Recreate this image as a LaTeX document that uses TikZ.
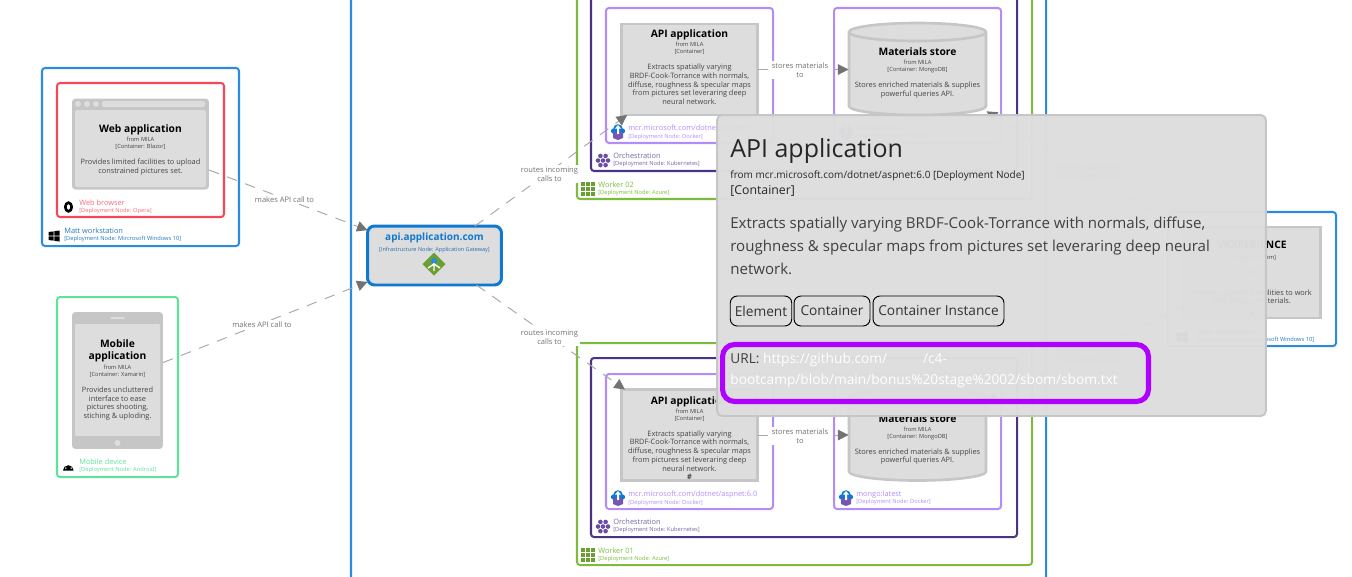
\documentclass[tikz,border=0pt]{standalone}
\usepackage{fontspec}
\setmainfont{Open Sans}
\usepackage{xcolor}
\usepackage{tikz}
\usetikzlibrary{shapes,arrows.meta}
\definecolor{bblue}{HTML}{2A8CE0}
\definecolor{bdeep}{HTML}{0F78D0}
\definecolor{bred}{HTML}{F5465A}
\definecolor{bmint}{HTML}{5FE39B}
\definecolor{bgreen}{HTML}{7CBB3C}
\definecolor{bdark}{HTML}{4A3284}
\definecolor{bpurp}{HTML}{B48CFA}
\definecolor{bgray}{HTML}{DDDDDD}
\definecolor{bedge}{HTML}{C6C6C6}
\definecolor{blink}{HTML}{B000FF}
\definecolor{btext}{HTML}{444444}
\lineskiplimit=-20pt
\tikzstyle{bound} = [rounded corners=0.06cm, line width=1.15pt]
\tikzstyle{block} = [rectangle, draw=bedge, fill=bgray, line width=1.5pt, inner sep=0, outer sep=0, minimum width=2.73cm, minimum height=1.82cm]
\tikzstyle{store} = [rectangle, inner sep=0, outer sep=0, minimum width=2.76cm, minimum height=1.86cm]
\tikzstyle{device} = [rectangle, rounded corners=0.07cm, fill=bedge, inner sep=0, outer sep=0]
\tikzstyle{blocktext} = [anchor=north, align=center, inner sep=0, text=btext, font=\fontsize{4.2}{5}\selectfont]
\tikzstyle{bname} = [anchor=west, align=left, inner sep=0, font=\fontsize{4.2}{4.4}\selectfont]
\tikzstyle{arrow} = [draw=bedge!85!black, line width=0.55pt, dash pattern=on 6pt off 5pt, -{Triangle[length=6pt,width=6pt,color=black!55,fill=black!55]}]
\tikzstyle{edgelabel} = [fill=white, align=center, inner sep=0.9pt, text=black!55, font=\fontsize{4.3}{4.9}\selectfont]
\tikzstyle{tag} = [draw=black, rectangle, rounded corners=0.14cm, line width=0.55pt, inner sep=0, minimum height=0.6cm, text=black!80, font=\fontsize{7.8}{9}\selectfont]
\newcommand{\titleline}[1]{{\fontsize{5.85}{5}\selectfont\bfseries\color{black}#1}}
\newcommand{\tinyline}[1]{{\fontsize{3.25}{4.4}\selectfont #1}}
\newcommand{\drumshape}[2]{
    \begin{scope}[shift={(#1,#2)}]
        \draw[draw=bedge, fill=bgray, line width=1.5pt] (-68.5,-37.5) -- (-68.5,36.5) arc (180:0:68.5 and 9) -- (68.5,-37.5) arc (0:-180:68.5 and 9) -- cycle;
        \draw[draw=bedge, line width=1.5pt] (-68.5,-37.5) arc (180:0:68.5 and 9);
    \end{scope}
}
\newcommand{\dockericon}[2]{
    \begin{scope}[shift={(#1,#2)}]
        \fill[bdeep] (0,-3) circle (4.8) (-4.5,-1) circle (2.6) (4.5,-1) circle (2.6);
        \fill[bdark!60!bpurp] (-5,1) -- (0,-1) -- (5,1) -- (5,6) -- (0,8) -- (-5,6) -- cycle;
        \fill[white] (0,-7) -- (3,-3.5) -- (1,-3.5) -- (1,2) -- (-1,2) -- (-1,-3.5) -- (-3,-3.5) -- cycle;
    \end{scope}
}
\newcommand{\kubeicon}[2]{
    \begin{scope}[shift={(#1,#2)}]
        \foreach \px/\py in {-2.6/-4.6, 2.6/-4.6, -5/0, 0/0, 5/0, -2.6/4.6, 2.6/4.6}
            \fill[bdark!70!bpurp] (\px,\py) circle (2.3);
    \end{scope}
}
\newcommand{\gridicon}[2]{
    \begin{scope}[shift={(#1,#2)}]
        \foreach \px in {-7,-2,3}
            \foreach \py in {-7,-2,3}
                \fill[bgreen!85!black] (\px,\py) rectangle ++(4.2,4.2);
    \end{scope}
}
\newcommand{\winicon}[2]{
    \begin{scope}[shift={(#1,#2)}]
        \fill[black] (-5.5,-4) -- (-0.5,-4.6) -- (-0.5,-0.5) -- (-5.5,-0.5) -- cycle;
        \fill[black] (0.3,-4.8) -- (5.5,-5.5) -- (5.5,-0.5) -- (0.3,-0.5) -- cycle;
        \fill[black] (-5.5,0.3) -- (-0.5,0.3) -- (-0.5,4.6) -- (-5.5,4) -- cycle;
        \fill[black] (0.3,0.3) -- (5.5,0.3) -- (5.5,5.5) -- (0.3,4.8) -- cycle;
    \end{scope}
}
\begin{document}
\begin{tikzpicture}[x=0.02cm, y=-0.02cm]
    \useasboundingbox (0,0) rectangle (1352,576);
    \clip (0,0) rectangle (1352,576);
    % outer boundaries
    \draw[bound, draw=bblue] (351,-10) rectangle (1046,590);
    \draw[bound, draw=bblue] (42,68) rectangle (239,246);
    \draw[bound, draw=bred] (57,83) rectangle (224,217);
    \draw[bound, draw=bmint] (57,297) rectangle (178,477);
    \draw[bound, draw=bblue] (1168,212) rectangle (1336,346);
    % worker 02
    \draw[bound, draw=bgreen] (577,-10) rectangle (1032,199);
    \draw[bound, draw=bdark] (591,-10) rectangle (1017,171);
    \draw[bound, draw=bpurp] (606,8) rectangle (773,143);
    \draw[bound, draw=bpurp] (834,8) rectangle (1001,143);
    % worker 01
    \draw[bound, draw=bgreen] (577,343) rectangle (1032,565);
    \draw[bound, draw=bdark] (591,358) rectangle (1017,537);
    \draw[bound, draw=bpurp] (606,374) rectangle (773,509);
    \draw[bound, draw=bpurp] (834,374) rectangle (1001,509);

    % browser
    \node[device, minimum width=2.74cm, minimum height=1.82cm] at (140.5,144) (webapp) {};
    \foreach \dotx in {78,87,96}
        \fill[bgray] (\dotx,104) circle (3);
    \fill[bgray, rounded corners=0.04cm] (102,101) rectangle (205,107);
    \fill[bgray, rounded corners=0.03cm] (75,110) rectangle (206,187);
    \node[blocktext] at (140.5,124.5) (webtext) {\titleline{Web application}\\[0.3pt]\tinyline{from MILA}\\[-1.15pt]\tinyline{[Container: Blazor]}\\[4pt]Provides limited facilities to upload\\constrained pictures set.};
    % tablet
    \node[device, minimum width=1.82cm, minimum height=2.74cm] at (117.5,380.5) (mobapp) {};
    \fill[bgray, rounded corners=0.02cm] (110,317) rectangle (125,319);
    \fill[bgray] (117.5,443) circle (3);
    \fill[bgray, rounded corners=0.02cm] (75,324) rectangle (160,436);
    \node[blocktext] at (117.5,339.5) (mobtext) {\titleline{Mobile}\\[1.6pt]\titleline{application}\\[0.7pt]\tinyline{from MILA}\\[-1.15pt]\tinyline{[Container: Xamarin]}\\[4.3pt]Provides uncluttered\\interface to ease\\pictures shooting,\\stiching \& uploding.};
    % gateway
    \node[rectangle, rounded corners=0.14cm, draw=bdeep, fill=bgray, line width=1.7pt, minimum width=2.68cm, minimum height=1.18cm, inner sep=0, outer sep=0] at (434.5,255.5) (gateway) {};
    \node[blocktext] at (434.5,233) (gatetext) {{\fontsize{5.7}{5}\selectfont\bfseries\color{bdeep}api.application.com}\\[0.9pt]{\fontsize{3.15}{5}\selectfont\color{bblue!80!black}[Infrastructure Node: Application Gateway]}};
    \fill[bgreen!85!black] (434,252.5) -- (445.5,264) -- (434,275.5) -- (422.5,264) -- cycle;
    \fill[bblue] (434,261) circle (3);
    \draw[white, line width=0.8pt] (434,263) -- (434,271) (434,264) -- (428,268) (434,264) -- (440,268);

    % containers
    \node[block] at (689.5,69.5) (apitop) {};
    \node[blocktext] at (689.5,29.5) (apitoptext) {\titleline{API application}\\[0.3pt]\tinyline{from MILA}\\[-1.15pt]\tinyline{[Container]}\\[4pt]Extracts spatially varying\\BRDF-Cook-Torrance with normals,\\diffuse, roughness \& specular maps\\from pictures set leveraring deep\\neural network.};
    \drumshape{917.5}{69.5}
    \node[store] at (917.5,69.5) (storetop) {};
    \node[blocktext] at (917.5,47.5) (storetoptext) {\titleline{Materials store}\\[0.3pt]\tinyline{from MILA}\\[-1.15pt]\tinyline{[Container: MongoDB]}\\[4pt]Stores enriched materials \& supplies\\powerful queries API.};
    \node[block] at (689.5,435) (apibot) {};
    \node[blocktext] at (689.5,396) (apibottext) {\titleline{API application}\\[0.3pt]\tinyline{from MILA}\\[-1.15pt]\tinyline{[Container]}\\[4pt]Extracts spatially varying\\BRDF-Cook-Torrance with normals,\\diffuse, roughness \& specular maps\\from pictures set leveraring deep\\neural network.\\{\bfseries\#}};
    \drumshape{917.5}{435}
    \node[store] at (917.5,435) (storebot) {};
    \node[blocktext] at (917.5,414) (storebottext) {\titleline{Materials store}\\[0.3pt]\tinyline{from MILA}\\[-1.15pt]\tinyline{[Container: MongoDB]}\\[4pt]Stores enriched materials \& supplies\\powerful queries API.};
    \node[block] at (1252,272.5) (vrx) {};
    \node[blocktext] at (1252,240.5) (vrxtext) {\titleline{VRXPERIENCE}\\[1.5pt]\tinyline{[Software System]}\\[3.6pt]\tinyline{None}\\[6.5pt]Provides powerful facilities to work\\with physics materials.\\[3pt]{\bfseries\#}};

    % connectors
    \path[arrow] (webapp) to (gateway);
    \path[arrow] (mobapp) to (gateway);
    \path[arrow] (gateway) to (apitop);
    \path[arrow] (gateway) to (apibot);
    \path[arrow] (apitop) to (storetop);
    \path[arrow] (apibot) to (storebot);
    \path[arrow] (vrx) to (storetop);
    \path[arrow] (vrx) to (storebot);
    \node[edgelabel] at (284.5,199.5) (weblbl) {makes API call to};
    \node[edgelabel] at (262,324.5) (moblbl) {makes API call to};
    \node[edgelabel] at (549.5,174) (routetop) {routes incoming\\calls to};
    \node[edgelabel] at (549.5,337.5) (routebot) {routes incoming\\calls to};
    \node[edgelabel] at (800,70) (storelbltop) {stores materials\\to};
    \node[edgelabel] at (800,436) (storelblbot) {stores materials\\to};
    \node[edgelabel] at (1088,172) (fetchtop) {fetches materials\\from};
    \node[edgelabel] at (1088,353) (fetchbot) {fetches materials\\from};

    % boundary names
    \node[bname, text=bred!80] at (79,207) (browsername) {Web browser\\\tinyline{[Deployment Node: Opera]}};
    \draw[black, line width=1.5pt] (68.5,207) ellipse (3.2 and 4.3);
    \node[bname, text=bblue!85!black] at (64,235) (mattname) {Matt workstation\\\tinyline{[Deployment Node: Mircrosoft Windows 10]}};
    \winicon{54}{236}
    \node[bname, text=bmint] at (79,466) (mobname) {Mobile device\\\tinyline{[Deployment Node: Android]}};
    \fill[black] (63,470.5) arc (180:360:5.3) -- cycle;
    \fill[white] (65.8,468) circle (0.8) (71.2,468) circle (0.8);
    \node[bname, text=bblue!85!black] at (1197,336) (vrxname) {Matt workstation\\\tinyline{[Deployment Node: Mircrosoft Windows 10]}};
    \winicon{1182}{337}

    \node[bname, text=bpurp] at (628,132) (dockname) {mcr.microsoft.com/dotnet/aspnet:6.0\\\tinyline{[Deployment Node: Docker]}};
    \dockericon{618}{132}
    \node[bname, text=bpurp] at (856,132) (mongoname) {mongo:latest\\\tinyline{[Deployment Node: Docker]}};
    \dockericon{846}{132}
    \node[bname, text=bdark!75] at (613,160) (kubename) {Orchestration\\\tinyline{[Deployment Node: Kubernetes]}};
    \kubeicon{603}{160.5}
    \node[bname, text=bgreen] at (598,189) (workname) {Worker 02\\\tinyline{[Deployment Node: Azure]}};
    \gridicon{588}{189}

    \node[bname, text=bpurp] at (628,498) (docknameb) {mcr.microsoft.com/dotnet/aspnet:6.0\\\tinyline{[Deployment Node: Docker]}};
    \dockericon{618}{498}
    \node[bname, text=bpurp] at (856,498) (mongonameb) {mongo:latest\\\tinyline{[Deployment Node: Docker]}};
    \dockericon{846}{498}
    \node[bname, text=bdark!75] at (613,526) (kubenameb) {Orchestration\\\tinyline{[Deployment Node: Kubernetes]}};
    \kubeicon{603}{526.5}
    \node[bname, text=bgreen] at (598,555) (worknameb) {Worker 01\\\tinyline{[Deployment Node: Azure]}};
    \gridicon{588}{555}

    % tooltip
    \node[rectangle, rounded corners=0.1cm, draw=bedge, fill=bgray, fill opacity=0.98, line width=1.1pt, minimum width=10.98cm, minimum height=6.02cm, inner sep=0, outer sep=0] at (991.5,265.5) (tooltip) {};
    \node[anchor=west, inner sep=0, text=black!85, font=\fontsize{14.2}{18}\selectfont] at (730,151) (tiptitle) {API application};
    \node[anchor=north west, align=left, inner sep=0, text=black!85, font=\fontsize{5.7}{9.2}\selectfont] at (730,170) (tipfrom) {from mcr.microsoft.com/dotnet/aspnet:6.0 [Deployment Node]\\{\fontsize{7}{9.2}\selectfont [Container]}};
    \node[anchor=north west, align=left, inner sep=0, text=black!75, font=\fontsize{8.57}{13.1}\selectfont] at (730,217) (tipdesc) {Extracts spatially varying BRDF-Cook-Torrance with normals, diffuse,\\roughness \& specular maps from pictures set leveraring deep neural\\network.};
    \node[tag, minimum width=1.23cm] at (761,311) (tagelem) {Element};
    \node[tag, minimum width=1.52cm] at (832,311) (tagcont) {Container};
    \node[tag, minimum width=2.62cm] at (938.5,311) (taginst) {Container Instance};
    \node[rectangle, draw=blink, rounded corners=0.24cm, line width=2.9pt, minimum width=8.52cm, minimum height=1.14cm, inner sep=0] at (935.5,373) (urlbox) {};
    \node[anchor=north west, align=left, inner sep=0, text=black!75, font=\fontsize{7.8}{12}\selectfont] at (730,353) (urltext) {URL: {\color{white}https://github.com/\hspace{0.72cm}/c4-}\\{\color{white}bootcamp/blob/main/bonus\%20stage\%2002/sbom/sbom.txt}};
\end{tikzpicture}
\end{document}
